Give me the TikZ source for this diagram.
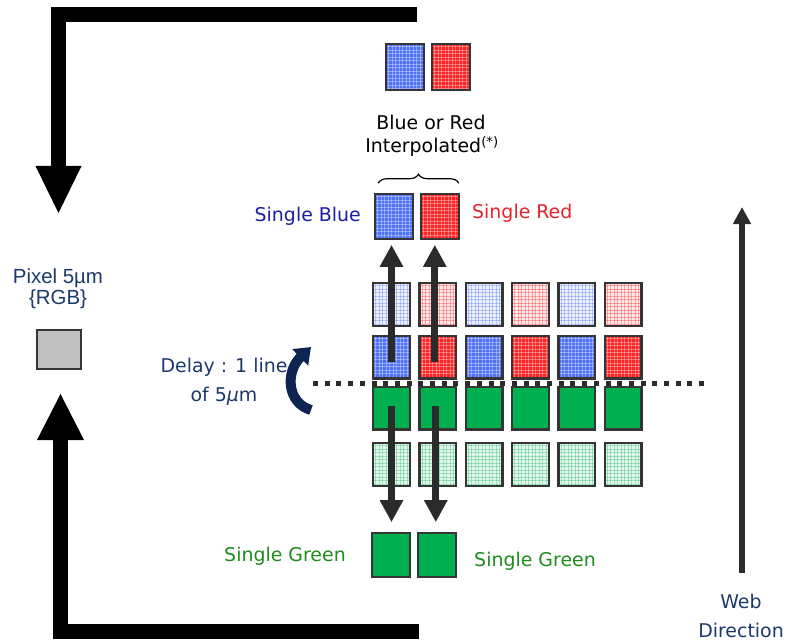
\documentclass[tikz,border=0pt]{standalone}
\usepackage{fontspec}
\setmainfont{DejaVu Sans}
\newfontfamily\arialf{Liberation Sans}
\usetikzlibrary{arrows.meta,decorations.pathreplacing,calc}
\definecolor{navyt}{HTML}{1B3A6B}
\definecolor{sbtext}{HTML}{1C1CA8}
\definecolor{srtext}{HTML}{E8202A}
\definecolor{sgtext}{HTML}{1E8C1E}
\definecolor{arrowd}{HTML}{2B2B2B}
\definecolor{sqborder}{HTML}{353535}
\definecolor{gsolid}{HTML}{00B050}
\definecolor{bsat}{HTML}{4F72F6}
\definecolor{rsat}{HTML}{FF2424}
\definecolor{pixgray}{HTML}{C0C0C0}
\definecolor{delaycol}{HTML}{0E2552}
\begin{document}
\begin{tikzpicture}[x=1bp,y=-1bp,
  cell/.style={draw=sqborder, line width=2.4bp, minimum width=36.6bp, minimum height=42.6bp, inner sep=0pt, outer sep=0pt},
  tex/.style n args={3}{fill=#1, path picture={
      \foreach \k in {2.5,6,...,51} {
        \draw[#2, opacity=#3, line width=.8bp] ([xshift=\k bp]path picture bounding box.north west) -- ([xshift=\k bp]path picture bounding box.south west);
        \draw[#2, opacity=#3, line width=.8bp] ([yshift=-\k bp]path picture bounding box.north west) -- ([yshift=-\k bp]path picture bounding box.north east);
      }}},
  comic/.style={font=\fontsize{19}{22}\selectfont, inner sep=0pt},
  bar/.style={draw=arrowd, line width=7bp, -{Triangle[width=22bp,length=22bp]}},
]
\useasboundingbox (0,0) rectangle (802,641);

% frame arrows
\draw[line width=15bp, line join=miter] (417,14.5) -- (58.5,14.5) -- (58.5,168);
\fill (35.5,166) -- (81.5,166) -- (58.5,213) -- cycle;
\draw[line width=15bp, line join=miter] (419,631.5) -- (60.5,631.5) -- (60.5,438);
\fill (37,440) -- (84,440) -- (60.5,394) -- cycle;

% pixel
\node[cell, fill=pixgray, minimum width=43.6bp, minimum height=38.6bp] (pix) at (59,349.5) {};
\node[font=\arialf\fontsize{20.5}{24}\selectfont, text=navyt, anchor=base, inner sep=0pt] (pixt1) at (58,283) {Pixel 5µm};
\node[font=\arialf\fontsize{20.5}{24}\selectfont, text=navyt, anchor=base, inner sep=0pt] (pixt2) at (58,304) {\{RGB\}};

% interpolated pair
\node[cell, tex={bsat}{white}{.35}, minimum width=37.6bp, minimum height=45.6bp] (ib) at (405,67) {};
\node[cell, tex={rsat}{white}{.35}, minimum width=37.6bp, minimum height=45.6bp] (ir) at (451,67) {};
\node[comic, anchor=base] (t1) at (431,130) {Blue or Red};
\node[comic, anchor=base] (t2) at (432,153) {Interpolated\textsuperscript{(*)}};

% single blue / red
\node[cell, tex={bsat}{white}{.35}, minimum width=37.6bp, minimum height=44.6bp] (sb) at (394,216.5) {};
\node[cell, tex={rsat}{white}{.35}, minimum width=37.6bp, minimum height=44.6bp] (sr) at (440,216.5) {};
\draw[decorate, decoration={brace, amplitude=9bp}, line width=1.2bp] ($(sb.north west)+(3,-11)$) -- ($(sr.north east)+(0,-11)$);
\node[comic, text=sbtext, anchor=base east] (tsb) at (361,222) {Single Blue};
\node[comic, text=srtext, anchor=base west] (tsr) at (472,219) {Single Red};

% grid
\foreach \c/\x/\col in {1/391.5/bsat, 2/437.8/rsat, 3/484.1/bsat, 4/530.4/rsat, 5/576.7/bsat, 6/623/rsat} {
  \node[cell, tex={\col!10}{\col}{.35}] (a\c) at (\x,304.5) {};
  \node[cell, tex={\col}{white}{.35}] (b\c) at (\x,357.2) {};
  \node[cell, fill=gsolid] (c\c) at (\x,408.3) {};
  \node[cell, tex={gsolid!10}{gsolid}{.3}] (d\c) at (\x,464.5) {};
}

% bottom greens
\node[cell, fill=gsolid, minimum width=37.6bp, minimum height=43.6bp] (g1) at (391,555) {};
\node[cell, fill=gsolid, minimum width=37.6bp, minimum height=43.6bp] (g2) at (437,555) {};
\node[comic, text=sgtext, anchor=base] (tg1) at (285,561) {Single Green};
\node[comic, text=sgtext, anchor=base] (tg2) at (535,566) {Single Green};

% dotted line
\coordinate (dl) at (313,383.5);
\coordinate (dr) at (706,383.5);
\draw[arrowd, line width=5bp, dash pattern=on 5bp off 6.7bp] (dl) -- (dr);

% up arrows
\draw[bar, shorten <=-5bp, shorten >=6bp] (b1.center) -- (b1.center |- sb.south);
\coordinate (u2) at ($(b2.center)+(-3,0)$);
\draw[bar, shorten <=-5bp, shorten >=6bp] (u2) -- (u2 |- sr.south);

% down arrows
\draw[bar, shorten <=-2bp, shorten >=11bp] (c1.center) -- (c1.center |- g1.north);
\coordinate (d2) at ($(c2.center)+(-2,0)$);
\draw[bar, shorten <=-2bp, shorten >=11bp] (d2) -- (d2 |- g2.north);

% delay
\draw[delaycol, line width=10bp, -{Triangle[width=22bp,length=15bp]}] (311,410) .. controls (287,403) and (285,372) .. (311,347);
\node[comic, text=navyt, anchor=base] (td1) at (224,372) {Delay : 1 line};
\node[comic, text=navyt, anchor=base] (td2) at (224,401) {of 5{\itshape µ}m};

% web direction
\coordinate (wb) at (742,573);
\coordinate (wt) at (742,207);
\draw[draw=arrowd, line width=6bp, -{Triangle[width=17bp,length=17bp]}] (wb) -- (wt);
\node[comic, text=navyt, anchor=base] (tw1) at (741,608) {Web};
\node[comic, text=navyt, anchor=base] (tw2) at (741,637) {Direction};
\end{tikzpicture}
\end{document}
